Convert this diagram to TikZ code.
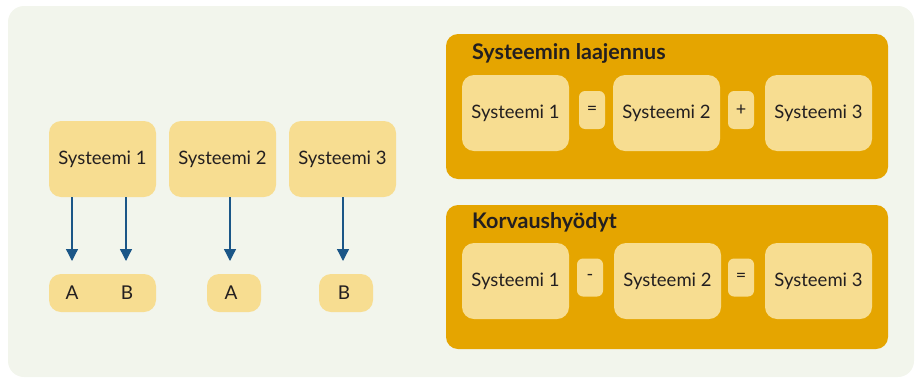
\documentclass[tikz,border=0pt]{standalone}
\usepackage{fontspec}
\setmainfont{Lato}
\usetikzlibrary{arrows.meta}
\definecolor{bgpale}{HTML}{F2F5EC}
\definecolor{boxlight}{HTML}{F7DD91}
\definecolor{panelorange}{HTML}{E5A500}
\definecolor{arrowblue}{HTML}{1B5687}
\definecolor{inktext}{HTML}{231F20}
\tikzset{
  sysbox/.style={fill=boxlight, rounded corners=12pt, minimum width=107pt,
    minimum height=76pt, inner sep=0pt, text=inktext, font=\fontsize{18.5}{20}\selectfont},
  letterbox/.style={fill=boxlight, rounded corners=12pt, minimum height=38pt,
    inner sep=0pt},
  letter/.style={text=inktext, font=\fontsize{19}{21}\selectfont, inner sep=0pt},
  opbox/.style={fill=boxlight, rounded corners=6pt, minimum width=26pt,
    minimum height=38pt, inner sep=0pt, text=inktext, font=\fontsize{18}{20}\selectfont},
  panel/.style={fill=panelorange, rounded corners=12pt},
  paneltitle/.style={anchor=west, text=inktext, inner sep=0pt,
    font=\bfseries\fontsize{21.5}{23}\selectfont},
  arr/.style={draw=arrowblue, line width=1.3pt,
    -{Triangle[width=12pt,length=12pt]}}
}
\begin{document}
\begin{tikzpicture}[x=1pt,y=-1pt]
\useasboundingbox (0,0) rectangle (915,378);
% pale backdrop
\fill[bgpale, rounded corners=16pt] (8,6) rectangle (914,377);

% left: three systems and what they provide
\node[sysbox] (s1) at (102.5,159) {Systeemi 1};
\node[sysbox] (s2) at (222.5,159) {Systeemi 2};
\node[sysbox] (s3) at (342.5,159) {Systeemi 3};

\node[letterbox, minimum width=107pt] (ab) at (102.5,293) {};
\node[letterbox, minimum width=54pt] (oa) at (234,293) {};
\node[letterbox, minimum width=54pt] (ob) at (346,293) {};
\node[letter] (a1) at (72,293) {A};
\node[letter] (b1) at (127,293) {B};
\node[letter] (a2) at (231,293) {A};
\node[letter] (b3) at (344,293) {B};

\coordinate (t1) at (72,261);
\coordinate (t2) at (126,261);
\coordinate (t3) at (230,261);
\coordinate (t4) at (343,261);
\draw[arr] (s1.south -| t1) -- (t1);
\draw[arr] (s1.south -| t2) -- (t2);
\draw[arr] (s2.south -| t3) -- (t3);
\draw[arr] (s3.south -| t4) -- (t4);

% upper panel
\fill[panel] (446,34) rectangle (888,179);
\node[paneltitle] (title1) at (472,53) {Systeemin laajennus};
\node[sysbox] (p1) at (515.5,113) {Systeemi 1};
\node[opbox] (e1) at (592,110) {=};
\node[sysbox] (p2) at (666.5,113) {Systeemi 2};
\node[opbox] (plus) at (741,110) {+};
\node[sysbox] (p3) at (818.5,113) {Systeemi 3};

% lower panel
\fill[panel] (446,205) rectangle (888,349);
\node[paneltitle] (title2) at (472,222) {Korvaushyödyt};
\node[sysbox] (q1) at (515.5,281) {Systeemi 1};
\node[opbox] (minus) at (590,277.5) {-};
\node[sysbox] (q2) at (667.5,281) {Systeemi 2};
\node[opbox] (e2) at (741,277.5) {=};
\node[sysbox] (q3) at (818.5,281) {Systeemi 3};
\end{tikzpicture}
\end{document}
